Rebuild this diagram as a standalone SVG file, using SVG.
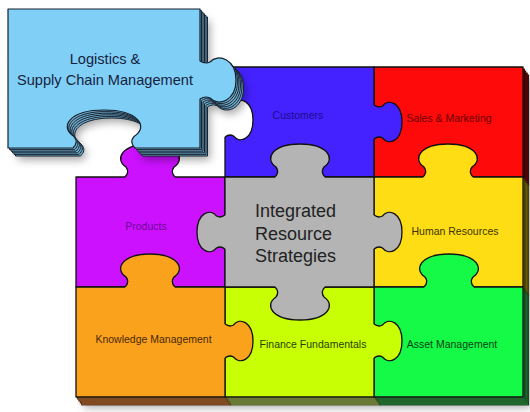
<svg xmlns="http://www.w3.org/2000/svg" width="530" height="412" viewBox="0 0 530 412">
<style>
  .edge{stroke:#111;stroke-width:1.3;stroke-linejoin:round}
  .tl{fill:none;stroke:#111;stroke-width:1.3;stroke-linejoin:round}
  .lbl{font-family:"Liberation Sans",Arial,sans-serif;font-size:10.5px;text-anchor:middle}
  .big{font-family:"Liberation Sans",Arial,sans-serif;font-size:18px;fill:#222}
  .lsc-text{font-family:"Liberation Sans",Arial,sans-serif;font-size:14.6px;fill:#17223c;text-anchor:middle}
  .lyr rect{stroke-width:0.9}
  .l-red{fill:#7a0a0a;stroke:#2a0000}
  .l-yel{fill:#8a7c10;stroke:#3a3200}
  .l-grn{fill:#2f8a40;stroke:#0c3a16}
  .l-org{fill:#b06a30;stroke:#4a2510}
  .l-lim{fill:#8ea050;stroke:#3e4c18}
  .lsc-layer{fill:#6fa8c8;stroke:#121c28;stroke-width:0.95}
</style>
<defs>
  <!-- vertical knob (u along the edge, v outward), with a short overlap into the owning piece -->
  <path id="tabV" d="M-25,0 C-22,3 -21,6 -24,10 C-36,18 -28,33 0,33 C28,33 36,18 24,10 C21,6 22,3 25,0 L25,-3 L-25,-3 Z"/>
  <path id="tabVline" d="M-25,0 C-22,3 -21,6 -24,10 C-36,18 -28,33 0,33 C28,33 36,18 24,10 C21,6 22,3 25,0"/>
  <!-- horizontal knob -->
  <path id="tabH" d="M-17,0 C-15,2.6 -14,5 -16,8.5 C-24,15 -19,28 0,28 C19,28 24,15 16,8.5 C14,5 15,2.6 17,0 L17,-3 L-17,-3 Z"/>
  <path id="tabHline" d="M-17,0 C-15,2.6 -14,5 -16,8.5 C-24,15 -19,28 0,28 C19,28 24,15 16,8.5 C14,5 15,2.6 17,0"/>
  <!-- the loose logistics piece -->
  <path id="lsc" d="M8,9 L200,9 L200,61 C203,63 206,64 210,62 C218,53 236,59 236,80 C236,101 218,107 210,98 C206,96 203,97 200,99 L200,148 L135,148 C131.5,144.5 130,141 134,136.5 C149,127.3 139,110 104,110 C69,110 59,127.3 74,136.5 C78,141 76.5,144.5 73,148 L8,148 Z"/>
  <filter id="blur" x="-20%" y="-20%" width="140%" height="140%"><feGaussianBlur stdDeviation="4"/></filter>
</defs>

<rect width="530" height="412" fill="#fff"/>

<!-- board thickness and shadow -->
<g id="board-depth">
  <path d="M225,67 H523 V397 H76 V177 H225 Z" transform="translate(8,11)" fill="#000" opacity="0.3" filter="url(#blur)"/>
  <g class="lyr" transform="translate(5.6,8)">
    <rect class="l-red" x="374" y="67" width="149" height="110"/>
    <rect class="l-yel" x="374" y="177" width="149" height="110"/>
    <rect class="l-grn" x="374" y="287" width="149" height="110"/>
    <rect class="l-org" x="76" y="287" width="149" height="110"/>
    <rect class="l-lim" x="225" y="287" width="149" height="110"/>
  </g>
  <g class="lyr" transform="translate(4.2,6)">
    <rect class="l-red" x="374" y="67" width="149" height="110"/>
    <rect class="l-yel" x="374" y="177" width="149" height="110"/>
    <rect class="l-grn" x="374" y="287" width="149" height="110"/>
    <rect class="l-org" x="76" y="287" width="149" height="110"/>
    <rect class="l-lim" x="225" y="287" width="149" height="110"/>
  </g>
  <g class="lyr" transform="translate(2.8,4)">
    <rect class="l-red" x="374" y="67" width="149" height="110"/>
    <rect class="l-yel" x="374" y="177" width="149" height="110"/>
    <rect class="l-grn" x="374" y="287" width="149" height="110"/>
    <rect class="l-org" x="76" y="287" width="149" height="110"/>
    <rect class="l-lim" x="225" y="287" width="149" height="110"/>
  </g>
  <g class="lyr" transform="translate(1.4,2)">
    <rect class="l-red" x="374" y="67" width="149" height="110"/>
    <rect class="l-yel" x="374" y="177" width="149" height="110"/>
    <rect class="l-grn" x="374" y="287" width="149" height="110"/>
    <rect class="l-org" x="76" y="287" width="149" height="110"/>
    <rect class="l-lim" x="225" y="287" width="149" height="110"/>
  </g>
</g>

<g id="sales-marketing">
  <rect class="edge" x="374" y="67" width="149" height="110" fill="#ff0a0a"/>
  <text class="lbl" x="449" y="122" fill="#6a0000">Sales &amp; Marketing</text>
</g>

<g id="human-resources">
  <rect class="edge" x="374" y="177" width="149" height="110" fill="#ffdd15"/>
  <use href="#tabV" transform="translate(448,177) scale(1,-1)" fill="#ffdd15"/>
  <use href="#tabVline" class="tl" transform="translate(448,177) scale(1,-1)"/>
  <text class="lbl" x="455" y="235" fill="#3a3300">Human Resources</text>
</g>

<g id="asset-management">
  <rect class="edge" x="374" y="287" width="149" height="110" fill="#14fa46"/>
  <use href="#tabV" transform="translate(449,287) scale(1,-1)" fill="#14fa46"/>
  <use href="#tabVline" class="tl" transform="translate(449,287) scale(1,-1)"/>
  <text class="lbl" x="452" y="348" fill="#0a4418">Asset Management</text>
</g>

<g id="finance-fundamentals">
  <rect class="edge" x="225" y="287" width="149" height="110" fill="#c8ff05"/>
  <use href="#tabH" transform="translate(374,341) rotate(-90)" fill="#c8ff05"/>
  <use href="#tabHline" class="tl" transform="translate(374,341) rotate(-90)"/>
  <text class="lbl" x="313" y="348" fill="#2a4000">Finance Fundamentals</text>
</g>

<g id="products">
  <rect class="edge" x="76" y="177" width="149" height="110" fill="#cc11ff"/>
  <use href="#tabV" transform="translate(150,177) scale(1,-1)" fill="#cc11ff"/>
  <use href="#tabVline" class="tl" transform="translate(150,177) scale(1,-1)"/>
  <text class="lbl" x="146" y="230" fill="#6e0896">Products</text>
</g>

<g id="knowledge-management">
  <rect class="edge" x="76" y="287" width="149" height="110" fill="#faa21c"/>
  <use href="#tabV" transform="translate(150,287) scale(1,-1)" fill="#faa21c"/>
  <use href="#tabVline" class="tl" transform="translate(150,287) scale(1,-1)"/>
  <use href="#tabH" transform="translate(225,341) rotate(-90)" fill="#faa21c"/>
  <use href="#tabHline" class="tl" transform="translate(225,341) rotate(-90)"/>
  <text class="lbl" x="153.5" y="343" fill="#4a2808">Knowledge Management</text>
</g>

<g id="customers">
  <rect class="edge" x="225" y="67" width="149" height="110" fill="#4422ff"/>
  <use href="#tabH" transform="translate(374,122) rotate(-90)" fill="#4422ff"/>
  <use href="#tabHline" class="tl" transform="translate(374,122) rotate(-90)"/>
  <!-- open slot on the left edge -->
  <use href="#tabH" transform="translate(225,120) rotate(-90)" fill="#fff"/>
  <use href="#tabHline" class="tl" transform="translate(225,120) rotate(-90)"/>
  <text class="lbl" x="298" y="119" fill="#1c0c8c">Customers</text>
</g>

<g id="integrated-resource-strategies">
  <rect class="edge" x="225" y="177" width="149" height="110" fill="#b4b4b4"/>
  <use href="#tabV" transform="translate(300,177) scale(1,-1)" fill="#b4b4b4"/>
  <use href="#tabV" transform="translate(300,287)" fill="#b4b4b4"/>
  <use href="#tabH" transform="translate(225,232) rotate(90)" fill="#b4b4b4"/>
  <use href="#tabH" transform="translate(374,232) rotate(-90)" fill="#b4b4b4"/>
  <use href="#tabVline" class="tl" transform="translate(300,177) scale(1,-1)"/>
  <use href="#tabVline" class="tl" transform="translate(300,287)"/>
  <use href="#tabHline" class="tl" transform="translate(225,232) rotate(90)"/>
  <use href="#tabHline" class="tl" transform="translate(374,232) rotate(-90)"/>
  <text class="big" x="255" y="217">Integrated</text>
  <text class="big" x="255" y="239.5">Resource</text>
  <text class="big" x="255" y="262">Strategies</text>
</g>

<g id="logistics-supply-chain">
  <use href="#lsc" transform="translate(10,12)" fill="#000" opacity="0.35" filter="url(#blur)"/>
  <use href="#lsc" class="lsc-layer" transform="translate(7.5,8)"/>
  <use href="#lsc" class="lsc-layer" transform="translate(6,6.4)"/>
  <use href="#lsc" class="lsc-layer" transform="translate(4.5,4.8)"/>
  <use href="#lsc" class="lsc-layer" transform="translate(3,3.2)"/>
  <use href="#lsc" class="lsc-layer" transform="translate(1.5,1.6)"/>
  <use href="#lsc" fill="#80cff7" stroke="#15202c" stroke-width="1.2" stroke-linejoin="round"/>
  <text class="lsc-text" x="105" y="64">Logistics &amp;</text>
  <text class="lsc-text" x="105" y="85">Supply Chain Management</text>
</g>
</svg>
